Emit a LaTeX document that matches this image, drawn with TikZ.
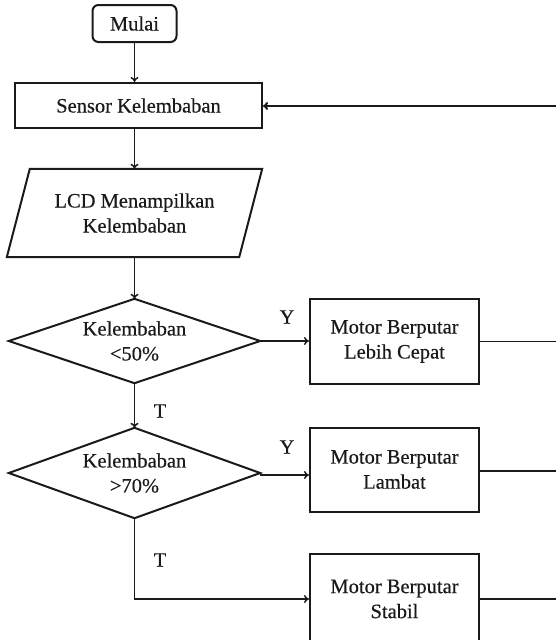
\documentclass[tikz,border=0pt]{standalone}
\usepackage{fontspec}
\setmainfont{Liberation Serif}[FakeBold=0.35]
\usetikzlibrary{arrows.meta}
\definecolor{ink}{HTML}{1A1A1A}
\tikzset{
  box/.style={draw=ink, line width=2pt, inner sep=0pt, align=center},
  shapetext/.style={inner sep=0pt, align=center},
  outline/.style={draw=ink, line width=2pt, line join=miter},
  conn/.style={draw=ink, line width=1.5pt},
  arr/.style={conn, -{To[length=5pt,width=8pt]}},
  lbl/.style={inner sep=0pt, text=ink},
}
\begin{document}
\begin{tikzpicture}[x=1pt, y=-1pt, font=\fontsize{20.5}{25}\selectfont, text=ink]
\useasboundingbox (0,0) rectangle (556,640);
\clip (0,0) rectangle (556,640);
\fill[white] (0,0) rectangle (556,640);

% nodes
\node[box, rounded corners=6pt, minimum width=84pt, minimum height=37pt] (mulai) at (134.5,23.5) {Mulai};
\node[box, minimum width=247pt, minimum height=45pt] (sensor) at (138.5,105.5) {Sensor Kelembaban};
\node[shapetext, minimum width=232pt, minimum height=88pt] (lcd) at (134.5,213) {LCD Menampilkan\\Kelembaban};
\draw[outline] ([xshift=11.5pt]lcd.north west) -- ([xshift=11.5pt]lcd.north east)
  -- ([xshift=-11.5pt]lcd.south east) -- ([xshift=-11.5pt]lcd.south west) -- cycle;

\node[shapetext, minimum width=251pt, minimum height=84pt] (d1) at (134.5,341) {Kelembaban\\<50\%};
\draw[outline] (d1.north) -- (d1.east) -- (d1.south) -- (d1.west) -- cycle;

\node[shapetext, minimum width=251pt, minimum height=90pt] (d2) at (134.5,473) {Kelembaban\\>70\%};
\draw[outline] (d2.north) -- (d2.east) -- (d2.south) -- (d2.west) -- cycle;

\node[box, minimum width=169pt, minimum height=85pt] (b1) at (394.5,341.5) {Motor Berputar\\Lebih Cepat};
\node[box, minimum width=169pt, minimum height=84pt] (b2) at (394.5,469.5) {Motor Berputar\\Lambat};
\node[box, minimum width=169pt, minimum height=90pt] (b3) at (394.5,599) {Motor Berputar\\Stabil};

% free ends at the right edge
\coordinate (r0) at (560,106);
\coordinate (r1) at (560,341.5);
\coordinate (r2) at (560,471);
\coordinate (r3) at (560,599);

% connectors
\draw[arr] (mulai.south) -- (mulai.south |- sensor.north);
\draw[arr] (mulai.south |- sensor.south) -- (lcd.north);
\draw[arr] (lcd.south) -- (d1.north);
\draw[arr] (d1.south) -- (d2.north);
\draw[arr] (d1.east) -- (d1.east -| b1.west);
\draw[arr] ([yshift=-2pt]d2.east) -- ([yshift=-2pt]d2.east -| b2.west);
\draw[arr] (d2.south) |- (b3.west);
\draw[arr, line width=2pt] (r0) -- (sensor.east |- r0);
\draw[conn] (b1.east |- r1) -- (r1);
\draw[conn] (b2.east |- r2) -- (r2);
\draw[conn] (b3.east) -- (r3);

% labels
\node[lbl] (y1) at (287,317) {Y};
\node[lbl] (y2) at (287,447) {Y};
\node[lbl] (t1) at (160,411) {T};
\node[lbl] (t2) at (160,560) {T};
\end{tikzpicture}
\end{document}
